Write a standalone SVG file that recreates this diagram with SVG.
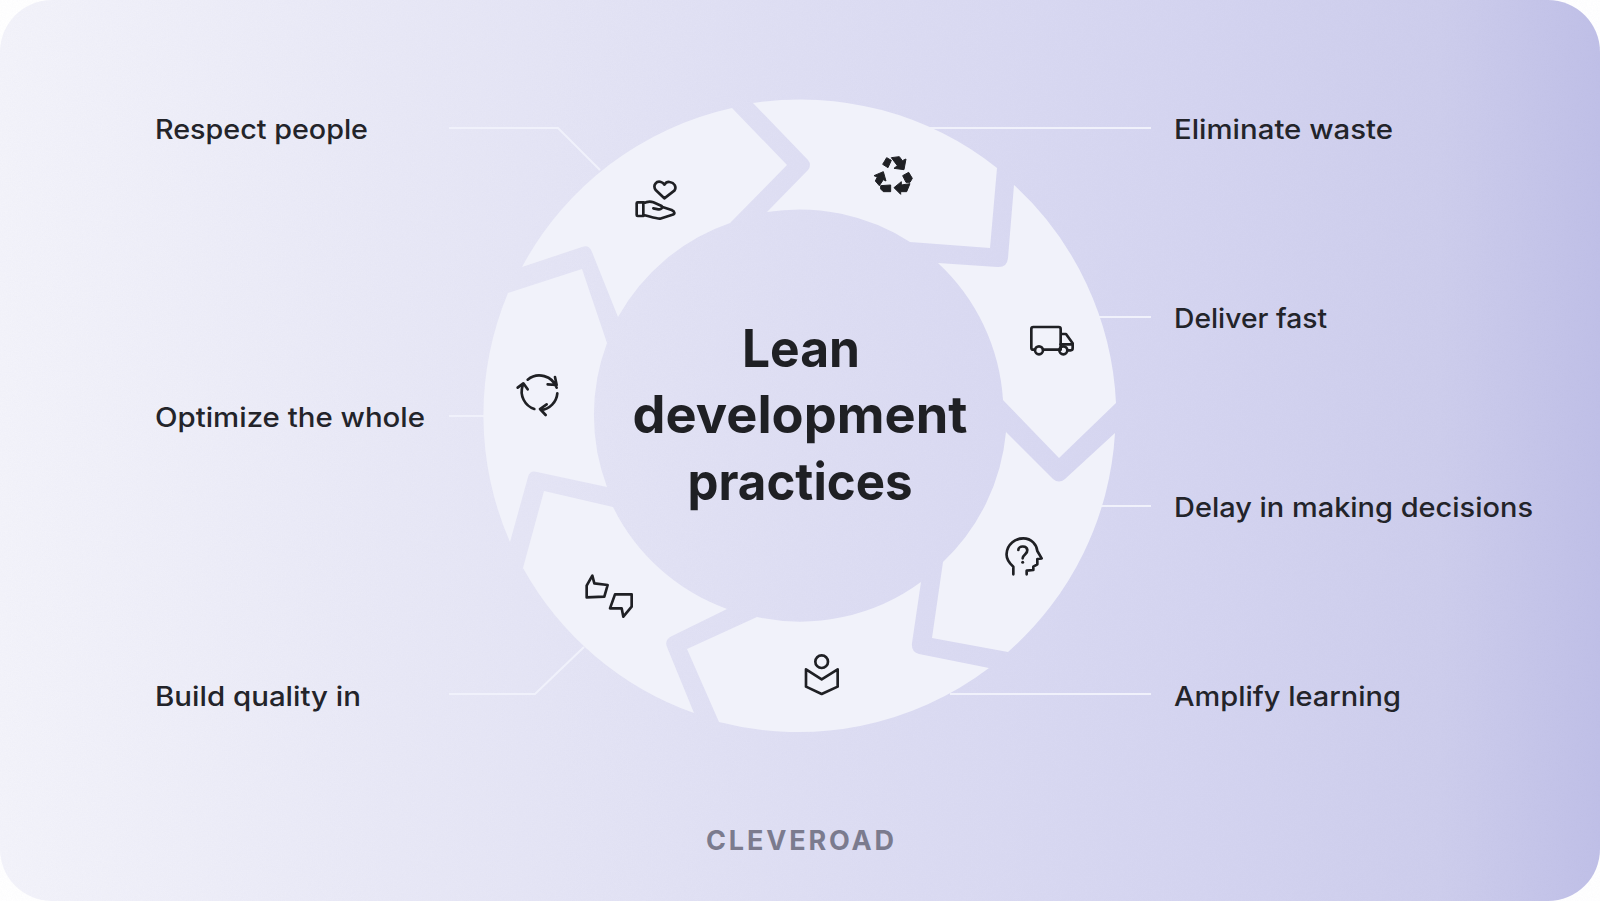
<svg xmlns="http://www.w3.org/2000/svg" width="1600" height="901" viewBox="0 0 1600 901">
<defs>
<linearGradient id="bg" x1="0" y1="0" x2="1" y2="0">
<stop offset="0" stop-color="#f3f3fa"/><stop offset="0.25" stop-color="#e8e8f6"/><stop offset="0.5" stop-color="#dedef3"/><stop offset="0.75" stop-color="#d4d4f0"/><stop offset="0.9" stop-color="#cdcdec"/><stop offset="1" stop-color="#bfbfe7"/>
</linearGradient>
<filter id="noise" x="0" y="0" width="1" height="1"><feTurbulence type="fractalNoise" baseFrequency="0.8" numOctaves="2" seed="3"/><feColorMatrix values="0 0 0 0 0.5 0 0 0 0 0.5 0 0 0 0 0.7 0 0 0 0.35 -0.08"/></filter>
</defs>
<style>
.seg{fill:#f1f2fa}
.ln{fill:none;stroke:#f0f1fb;stroke-width:2}
.lbl{font-family:Inter,"Liberation Sans",sans-serif;font-size:27px;font-weight:500;fill:#23242a}
.ttl{font-family:Inter,"Liberation Sans",sans-serif;font-size:52px;font-weight:700;fill:#1f2024;text-anchor:middle}
.brand{font-family:Inter,"Liberation Sans",sans-serif;font-size:27px;font-weight:700;fill:#7b7b8e}
.ic{fill:none;stroke:#1f2024;stroke-width:8;stroke-linejoin:round;stroke-linecap:round}
.icf{fill:#1f2024;stroke:#1f2024;stroke-width:3;stroke-linejoin:round}
</style>
<rect width="1600" height="901" fill="#fff"/>
<rect id="background" width="1600" height="901" rx="52" fill="url(#bg)"/>
<rect width="1600" height="901" rx="52" filter="url(#noise)" opacity="0.22"/>

<g id="connectors">
<path class="ln" d="M449 128H558L600 170"/>
<path class="ln" d="M930 128H1151"/>
<path class="ln" d="M1098 317H1151"/>
<path class="ln" d="M449 416H486"/>
<path class="ln" d="M1100 506H1151"/>
<path class="ln" d="M449 694H535L584 647"/>
<path class="ln" d="M950 694H1151"/>
</g>

<g id="step-eliminate-waste">
<path class="seg" d="M753 103A316 316 0 0 1 997 168L990 248L910 242A204.5 204.5 0 0 0 767 212L808 170Q812 165 808 160Z"/>
<g class="icon" transform="translate(860 145) scale(.3333)">
<polygon class="icf" points="68,58 80,38 94,46 84,68"/>
<polygon class="icf" points="94,38 118,35 127,47 138,42 132,74 102,70 112,62"/>
<polygon class="icf" points="128,92 146,82 157,100 150,112 138,112"/>
<polygon class="icf" points="150,116 140,140 122,140 122,148 102,128 124,110 124,120"/>
<polygon class="icf" points="62,122 92,120 92,140 70,140 62,132"/>
<polygon class="icf" points="42,92 70,80 78,108 70,104 58,122 46,108 52,96"/>
</g>
</g>

<g id="step-deliver-fast">
<path class="seg" d="M1014 185A316 316 0 0 1 1116 403L1059 458L1003 400A204.5 204.5 0 0 0 938 263L997 267Q1007 268 1008 258Z"/>
<g class="icon" transform="translate(1020 315) scale(.3333)">
<path class="ic" d="M45 104H40Q34 104 34 98V42Q34 36 40 36H116Q122 36 122 42V104M69 104H118M122 57H138L158 85V100Q158 106 152 106H143"/>
<path class="ic" d="M122 88H158"/>
<circle class="ic" cx="57" cy="106" r="12"/><circle class="ic" cx="130" cy="106" r="12"/>
</g>
</g>

<g id="step-delay-decisions">
<path class="seg" d="M1006 432L1053 479Q1059 484 1065 479L1115 433A316 316 0 0 1 1008 652L932 638L943 562A204.5 204.5 0 0 0 1006 432Z"/>
<g class="icon" transform="translate(990 525) scale(.3333)">
<path class="ic" d="M70 148V125C55 112 48 100 50 85C52 58 75 40 100 40C125 40 140 60 142 78L155 100L142 102V118L130 125V135L110 137V148"/>
<path class="ic" d="M85 75C85 62 110 60 112 75C113 88 98 88 98 100"/>
<circle cx="98" cy="112" r="4.5" fill="#1f2024"/>
</g>
</g>

<g id="step-amplify-learning">
<path class="seg" d="M989 668A316 316 0 0 1 719 722L687 649L757 617A204.5 204.5 0 0 0 921 582L912 643Q911 652 919 654Z"/>
<g class="icon" transform="translate(785 645) scale(.3333)">
<circle class="ic" cx="110" cy="50" r="19"/>
<path class="ic" d="M63 73L110 103L158 73V125L110 147L63 125Z"/>
</g>
</g>

<g id="step-build-quality">
<path class="seg" d="M694 713A316 316 0 0 1 523 568L544 491L613 507A204.5 204.5 0 0 0 727 609L672 636Q664 640 667 647Z"/>
<g class="icon" transform="translate(575 565) scale(.3333)">
<path class="ic" d="M35 97V62L52 32L58 55L98 60L88 95Z"/>
<path class="ic" d="M120 88H170V125L145 155L140 130H105Z"/>
</g>
</g>

<g id="step-optimize-whole">
<path class="seg" d="M510 542A316 316 0 0 1 508 293L582 269L607 343A204.5 204.5 0 0 0 607 487L537 472Q530 470 528 477Z"/>
<g class="icon" transform="translate(505 365) scale(.3333)">
<path class="ic" d="M68 44A55 55 0 0 1 155 68M150 36L155 60L128 58"/>
<path class="ic" d="M157 85A55 55 0 0 1 108 135M125 118L105 132L122 150"/>
<path class="ic" d="M88 132A55 55 0 0 1 53 62M38 68L55 55L68 73"/>
</g>
</g>

<g id="step-respect-people">
<path class="seg" d="M522 267A316 316 0 0 1 732 108L787 165L730 223A204.5 204.5 0 0 0 618 317L592 252Q589 244 582 247Z"/>
<g class="icon" transform="translate(625 170) scale(.3333)">
<path class="ic" d="M118 85L92 60C82 45 95 32 108 36C113 37 116 40 118 44C122 38 128 35 134 36C148 38 156 50 148 62Z"/>
<path class="ic" d="M55 97H38Q35 97 35 100V135Q35 138 38 138H55ZM55 100C65 95 75 93 85 97L110 108C115 112 108 120 100 118L85 115M110 110L140 120C150 125 152 132 140 135L105 146C95 147 70 138 55 135"/>
</g>
</g>

<g id="title">
<text class="ttl" x="801" y="367" textLength="118" lengthAdjust="spacingAndGlyphs">Lean</text>
<text class="ttl" x="800" y="433" textLength="335" lengthAdjust="spacingAndGlyphs">development</text>
<text class="ttl" x="800" y="500" textLength="225" lengthAdjust="spacingAndGlyphs">practices</text>
</g>

<g id="labels">
<text class="lbl" x="155" y="139" textLength="213" lengthAdjust="spacingAndGlyphs">Respect people</text>
<text class="lbl" x="155" y="427" textLength="270" lengthAdjust="spacingAndGlyphs">Optimize the whole</text>
<text class="lbl" x="155" y="706" textLength="206" lengthAdjust="spacingAndGlyphs">Build quality in</text>
<text class="lbl" x="1174" y="139" textLength="219" lengthAdjust="spacingAndGlyphs">Eliminate waste</text>
<text class="lbl" x="1174" y="328" textLength="153" lengthAdjust="spacingAndGlyphs">Deliver fast</text>
<text class="lbl" x="1174" y="517" textLength="359" lengthAdjust="spacingAndGlyphs">Delay in making decisions</text>
<text class="lbl" x="1174" y="706" textLength="227" lengthAdjust="spacingAndGlyphs">Amplify learning</text>
</g>
<text id="brand" class="brand" x="706" y="850" textLength="188" lengthAdjust="spacing">CLEVEROAD</text>
</svg>
